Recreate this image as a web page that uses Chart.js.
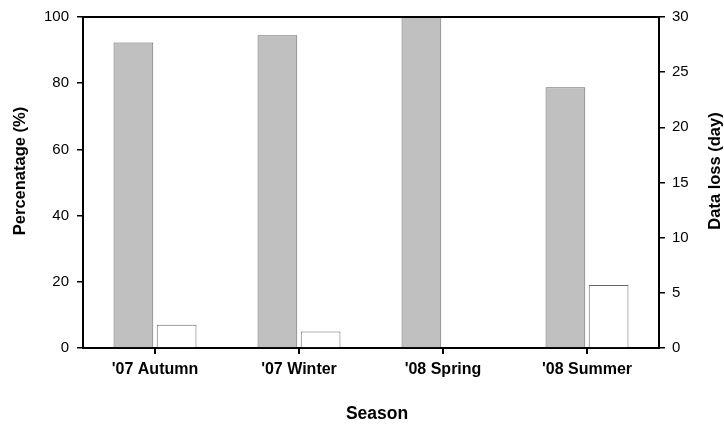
<!DOCTYPE html>
<html>
<head>
<meta charset="utf-8">
<script src="https://cdn.jsdelivr.net/npm/chart.js@4/dist/chart.umd.min.js"></script>
<style>
  html, body { margin: 0; padding: 0; background: #fff; }
  #wrap { width: 724px; height: 428px; }
</style>
</head>
<body>
<div id="wrap"><canvas id="c" width="724" height="428"></canvas></div>
<script>
// ---- data ----
const categories = ["'07 Autumn", "'07 Winter", "'08 Spring", "'08 Summer"];
const percentage = [92.3, 94.5, 100, 78.8];   // left axis (%)
const dataLoss   = [2.1, 1.5, 0, 5.7];        // right axis (day)
const leftTicks  = [0, 20, 40, 60, 80, 100];
const rightTicks = [0, 5, 10, 15, 20, 25, 30];

const FONT = "'Liberation Sans', Arial, sans-serif";

const titlesPlugin = {
  id: 'titles',
  afterDraw(chart) {
    const ctx = chart.ctx;
    const a = chart.chartArea;
    ctx.save();
    // top frame line
    ctx.strokeStyle = '#000';
    ctx.lineWidth = 2;
    ctx.beginPath();
    ctx.moveTo(a.left - 1, a.top);
    ctx.lineTo(a.right + 1, a.top);
    ctx.stroke();
    // axis titles
    ctx.fillStyle = '#000';
    ctx.textAlign = 'center';
    ctx.textBaseline = 'middle';
    ctx.font = "bold 17.5px " + FONT;
    ctx.fillText('Season', 377, 414);
    ctx.font = "bold 16.5px " + FONT;
    ctx.save();
    ctx.translate(20, 171);
    ctx.rotate(-Math.PI / 2);
    ctx.fillText('Percenatage (%)', 0, 0);
    ctx.restore();
    ctx.save();
    ctx.translate(715, 171);
    ctx.rotate(-Math.PI / 2);
    ctx.fillText('Data loss (day)', 0, 0);
    ctx.restore();
    ctx.restore();
  }
};

new Chart(document.getElementById('c'), {
  type: 'bar',
  data: {
    labels: categories,
    datasets: [
      {
        label: 'Percentage',
        data: percentage,
        yAxisID: 'y',
        backgroundColor: '#c0c0c0',
        borderColor: '#666666',
        borderWidth: 1,
        categoryPercentage: 0.6,
        barPercentage: 0.92
      },
      {
        label: 'Data loss',
        data: dataLoss,
        yAxisID: 'y1',
        backgroundColor: '#ffffff',
        borderColor: '#666666',
        borderWidth: 1,
        categoryPercentage: 0.6,
        barPercentage: 0.92
      }
    ]
  },
  options: {
    responsive: false,
    animation: false,
    devicePixelRatio: 1,
    layout: { padding: { top: 14, left: 0, right: 0, bottom: 0 } },
    plugins: { legend: { display: false }, tooltip: { enabled: false } },
    scales: {
      x: {
        type: 'category',
        position: 'bottom',
        offset: true,
        afterFit: s => { s.height = 80; },
        grid: { offset: false, drawOnChartArea: false, drawTicks: true, tickLength: 6, color: '#000', lineWidth: 2 },
        border: { display: true, color: '#000', width: 2 },
        ticks: {
          autoSkip: false, maxRotation: 0, padding: 6, color: '#000',
          font: { family: FONT, size: 16, weight: 'bold' }
        }
      },
      y: {
        position: 'left',
        min: 0, max: 100,
        afterBuildTicks: s => { s.ticks = leftTicks.map(v => ({ value: v })); },
        afterFit: s => { s.width = 83; },
        grid: { drawOnChartArea: false, drawTicks: true, tickLength: 6, color: '#000', lineWidth: 1.5 },
        border: { display: true, color: '#000', width: 2 },
        ticks: { padding: 8, color: '#000', font: { family: FONT, size: 15 } }
      },
      y1: {
        position: 'right',
        min: 0, max: 30,
        afterBuildTicks: s => { s.ticks = rightTicks.map(v => ({ value: v })); },
        afterFit: s => { s.width = 65; },
        grid: { drawOnChartArea: false, drawTicks: true, tickLength: 6, color: '#000', lineWidth: 1.5 },
        border: { display: true, color: '#000', width: 2 },
        ticks: { padding: 7, color: '#000', font: { family: FONT, size: 15 } }
      }
    }
  },
  plugins: [titlesPlugin]
});
</script>
</body>
</html>
